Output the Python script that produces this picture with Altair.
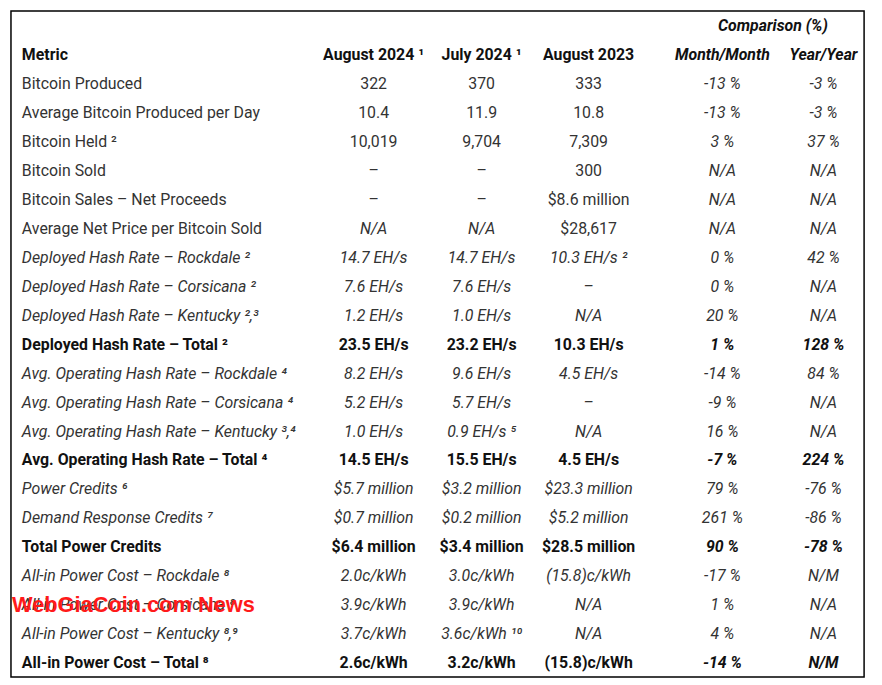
import altair as alt
import pandas as pd

FONT = "Roboto"

metrics = [
    "Bitcoin Produced",
    "Average Bitcoin Produced per Day",
    "Bitcoin Held ²",
    "Bitcoin Sold",
    "Bitcoin Sales – Net Proceeds",
    "Average Net Price per Bitcoin Sold",
    "Deployed Hash Rate – Rockdale ²",
    "Deployed Hash Rate – Corsicana ²",
    "Deployed Hash Rate – Kentucky ²,³",
    "Deployed Hash Rate – Total ²",
    "Avg. Operating Hash Rate – Rockdale ⁴",
    "Avg. Operating Hash Rate – Corsicana ⁴",
    "Avg. Operating Hash Rate – Kentucky ³,⁴",
    "Avg. Operating Hash Rate – Total ⁴",
    "Power Credits ⁶",
    "Demand Response Credits ⁷",
    "Total Power Credits",
    "All-in Power Cost – Rockdale ⁸",
    "All-in Power Cost – Corsicana ⁸",
    "All-in Power Cost – Kentucky ⁸,⁹",
    "All-in Power Cost – Total ⁸",
]
row_style = [
    "plain", "plain", "plain", "plain", "plain", "plain",
    "italic", "italic", "italic", "bold",
    "italic", "italic", "italic", "bold",
    "italic", "italic", "bold",
    "italic", "italic", "italic", "bold",
]
aug_2024 = ["322", "10.4", "10,019", "–", "–", "N/A",
            "14.7 EH/s", "7.6 EH/s", "1.2 EH/s", "23.5 EH/s",
            "8.2 EH/s", "5.2 EH/s", "1.0 EH/s", "14.5 EH/s",
            "$5.7 million", "$0.7 million", "$6.4 million",
            "2.0c/kWh", "3.9c/kWh", "3.7c/kWh", "2.6c/kWh"]
jul_2024 = ["370", "11.9", "9,704", "–", "–", "N/A",
            "14.7 EH/s", "7.6 EH/s", "1.0 EH/s", "23.2 EH/s",
            "9.6 EH/s", "5.7 EH/s", "0.9 EH/s ⁵", "15.5 EH/s",
            "$3.2 million", "$0.2 million", "$3.4 million",
            "3.0c/kWh", "3.9c/kWh", "3.6c/kWh ¹⁰", "3.2c/kWh"]
aug_2023 = ["333", "10.8", "7,309", "300", "$8.6 million", "$28,617",
            "10.3 EH/s ²", "–", "N/A", "10.3 EH/s",
            "4.5 EH/s", "–", "N/A", "4.5 EH/s",
            "$23.3 million", "$5.2 million", "$28.5 million",
            "(15.8)c/kWh", "N/A", "N/A", "(15.8)c/kWh"]
month_month = ["-13 %", "-13 %", "3 %", "N/A", "N/A", "N/A",
               "0 %", "0 %", "20 %", "1 %",
               "-14 %", "-9 %", "16 %", "-7 %",
               "79 %", "261 %", "90 %",
               "-17 %", "1 %", "4 %", "-14 %"]
year_year = ["-3 %", "-3 %", "37 %", "N/A", "N/A", "N/A",
             "42 %", "N/A", "N/A", "128 %",
             "84 %", "N/A", "N/A", "224 %",
             "-76 %", "-86 %", "-78 %",
             "N/M", "N/A", "N/A", "N/M"]
header_labels = ["Metric", "August 2024 ¹", "July 2024 ¹", "August 2023",
                 "Month/Month", "Year/Year"]
group_label = "Comparison (%)"
watermark = "WebGiaCoin.com News"

columns = [metrics, aug_2024, jul_2024, aug_2023, month_month, year_year]
records = []
for r in range(len(metrics)):
    for c, col in enumerate(columns):
        t = col[r]
        bold = row_style[r] == "bold"
        italic = row_style[r] == "italic" or c >= 4 or t == "N/A"
        records.append(dict(row=r, col=c, text=t, bold=bold, italic=italic))
for c, lab in enumerate(header_labels):
    records.append(dict(row=-1, col=c, text=lab, bold=True, italic=c >= 4))
records.append(dict(row=-2, col=4.5, text=group_label, bold=True, italic=True))
df = pd.DataFrame(records)

W, H = 861, 672
xs = alt.Scale(domain=[0, 1, 2, 3, 4, 5], range=[11, 366, 475, 583, 718, 820],
               nice=False, zero=False)
ys = alt.Scale(domain=[-2.705, 20.31], reverse=True, nice=False, zero=False)

layers = []
for bold in (False, True):
    for italic in (False, True):
        for left in (True, False):
            cond = (f"datum.bold == {str(bold).lower()} && "
                    f"datum.italic == {str(italic).lower()} && "
                    + ("datum.col == 0" if left else "datum.col != 0"))
            layers.append(
                alt.Chart(df).transform_filter(cond).mark_text(
                    align="left" if left else "center",
                    baseline="alphabetic",
                    font=FONT,
                    fontSize=16,
                    fontWeight="bold" if bold else "normal",
                    fontStyle="italic" if italic else "normal",
                    color="#111111" if bold else "#333333",
                ).encode(
                    x=alt.X("col:Q", scale=xs, axis=None),
                    y=alt.Y("row:Q", scale=ys, axis=None),
                    text="text:N",
                )
            )

wm_df = pd.DataFrame([dict(row=18, col=0, text=watermark)])
wm = alt.Chart(wm_df).mark_text(
    align="left", baseline="alphabetic", dx=-10, dy=2, font="Liberation Sans",
    fontSize=22, fontWeight="bold", color="#ff1a1a",
).encode(
    x=alt.X("col:Q", scale=xs, axis=None),
    y=alt.Y("row:Q", scale=ys, axis=None),
    text="text:N",
)
layers.append(wm)

chart = alt.layer(*layers).properties(
    width=W, height=H,
    autosize=alt.AutoSizeParams(type="none"),
    padding={"left": 3, "top": 0, "right": 10, "bottom": 5},
    background="white",
).configure_view(stroke="black", strokeWidth=1.5)

chart.save("out.html", embed_options={"renderer": "svg", "actions": False})
